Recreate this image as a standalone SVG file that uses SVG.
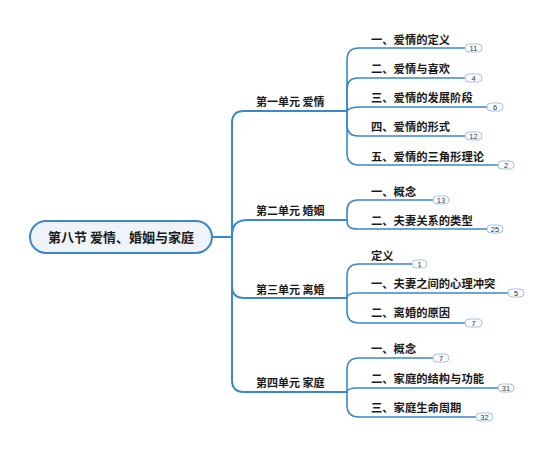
<svg xmlns="http://www.w3.org/2000/svg" width="554" height="451" viewBox="0 0 554 451">
<style>
.ln{fill:none;stroke:#3B87CB;stroke-width:2;stroke-linecap:round}
.ln2{fill:none;stroke:#3B87CB;stroke-width:1.6;stroke-linecap:round}
.t{font-family:"Noto Sans CJK SC","Noto Sans",sans-serif;font-weight:bold;fill:#1a1a1a}
.l1{font-size:11px}
.l2{font-size:11.3px}
.b rect{fill:#fff;stroke:#9FC3E6;stroke-width:1}
.b text{font-family:"Liberation Sans",sans-serif;font-size:7.5px;fill:#333;text-anchor:middle}
</style>
<rect width="554" height="451" fill="#fff"/>
<g id="connectors">
<path class="ln" d="M212,237 H232"/>
<path class="ln" d="M232,237 V123 Q232,111 244,111 H347"/>
<path class="ln" d="M232,237 C232,225 236,220 248,220 H347"/>
<path class="ln" d="M232,237 V286 Q232,298 244,298 H347"/>
<path class="ln" d="M232,237 V380 Q232,392 244,392 H347"/>
<path class="ln2" d="M347,111 V60 Q347,48 359,48 H465"/>
<path class="ln2" d="M347,111 V89 Q347,78 358,78 H465"/>
<path class="ln2" d="M347,111 C349,108 352,107 360,107 H487"/>
<path class="ln2" d="M347,111 V125 Q347,136 358,136 H465"/>
<path class="ln2" d="M347,111 V153 Q347,165 359,165 H498"/>
<path class="ln2" d="M347,220 V211 Q347,200 358,200 H433"/>
<path class="ln2" d="M347,220 C347,227 350,229 358,229 H487"/>
<path class="ln2" d="M347,298 V276 Q347,264 359,264 H412"/>
<path class="ln2" d="M347,298 C347,295 350,293 358,293 H508"/>
<path class="ln2" d="M347,298 V311 Q347,323 359,323 H465"/>
<path class="ln2" d="M347,392 V370 Q347,358 359,358 H433"/>
<path class="ln2" d="M347,392 C347,389 350,388 358,388 H498"/>
<path class="ln2" d="M347,392 V405 Q347,417 359,417 H476"/>
</g>
<g id="root">
<rect x="30" y="221" width="182" height="32" rx="16" fill="#EEF4FA" stroke="#3B87CB" stroke-width="2"/>
<text class="t" x="121" y="242" font-size="13" text-anchor="middle">第八节 爱情、婚姻与家庭</text>
</g>
<g id="u1"><text class="t l1" x="256" y="106">第一单元 爱情</text></g>
<g id="u2"><text class="t l1" x="256" y="215">第二单元 婚姻</text></g>
<g id="u3"><text class="t l1" x="256" y="294">第三单元 离婚</text></g>
<g id="u4"><text class="t l1" x="256" y="387">第四单元 家庭</text></g>
<g id="n1"><text class="t l2" x="371" y="44">一、爱情的定义</text><g class="b"><rect x="465" y="44" width="17" height="8" rx="4"/><text x="473.5" y="50.7">11</text></g></g>
<g id="n2"><text class="t l2" x="371" y="73">二、爱情与喜欢</text><g class="b"><rect x="465" y="74" width="17" height="8" rx="4"/><text x="473.5" y="80.7">4</text></g></g>
<g id="n3"><text class="t l2" x="371" y="102">三、爱情的发展阶段</text><g class="b"><rect x="487" y="103" width="16" height="8" rx="4"/><text x="495" y="109.7">6</text></g></g>
<g id="n4"><text class="t l2" x="371" y="131">四、爱情的形式</text><g class="b"><rect x="465" y="132" width="17" height="8" rx="4"/><text x="473.5" y="138.7">12</text></g></g>
<g id="n5"><text class="t l2" x="371" y="161">五、爱情的三角形理论</text><g class="b"><rect x="498" y="161" width="16" height="8" rx="4"/><text x="506" y="167.7">2</text></g></g>
<g id="n6"><text class="t l2" x="371" y="196">一、概念</text><g class="b"><rect x="433" y="196" width="16" height="8" rx="4"/><text x="441" y="202.7">13</text></g></g>
<g id="n7"><text class="t l2" x="371" y="225">二、夫妻关系的类型</text><g class="b"><rect x="487" y="225" width="16" height="8" rx="4"/><text x="495" y="231.7">25</text></g></g>
<g id="n8"><text class="t l2" x="371" y="260">定义</text><g class="b"><rect x="412" y="260" width="15" height="8" rx="4"/><text x="419.5" y="266.7">1</text></g></g>
<g id="n9"><text class="t l2" x="371" y="288">一、夫妻之间的心理冲突</text><g class="b"><rect x="508" y="289" width="16" height="8" rx="4"/><text x="516" y="295.7">5</text></g></g>
<g id="n10"><text class="t l2" x="371" y="317">二、离婚的原因</text><g class="b"><rect x="465" y="319" width="17" height="8" rx="4"/><text x="473.5" y="325.7">7</text></g></g>
<g id="n11"><text class="t l2" x="371" y="353">一、概念</text><g class="b"><rect x="433" y="354" width="16" height="8" rx="4"/><text x="441" y="360.7">7</text></g></g>
<g id="n12"><text class="t l2" x="371" y="383">二、家庭的结构与功能</text><g class="b"><rect x="498" y="384" width="16" height="8" rx="4"/><text x="506" y="390.7">31</text></g></g>
<g id="n13"><text class="t l2" x="371" y="412">三、家庭生命周期</text><g class="b"><rect x="476" y="413" width="17" height="8" rx="4"/><text x="484.5" y="419.7">32</text></g></g>
</svg>
